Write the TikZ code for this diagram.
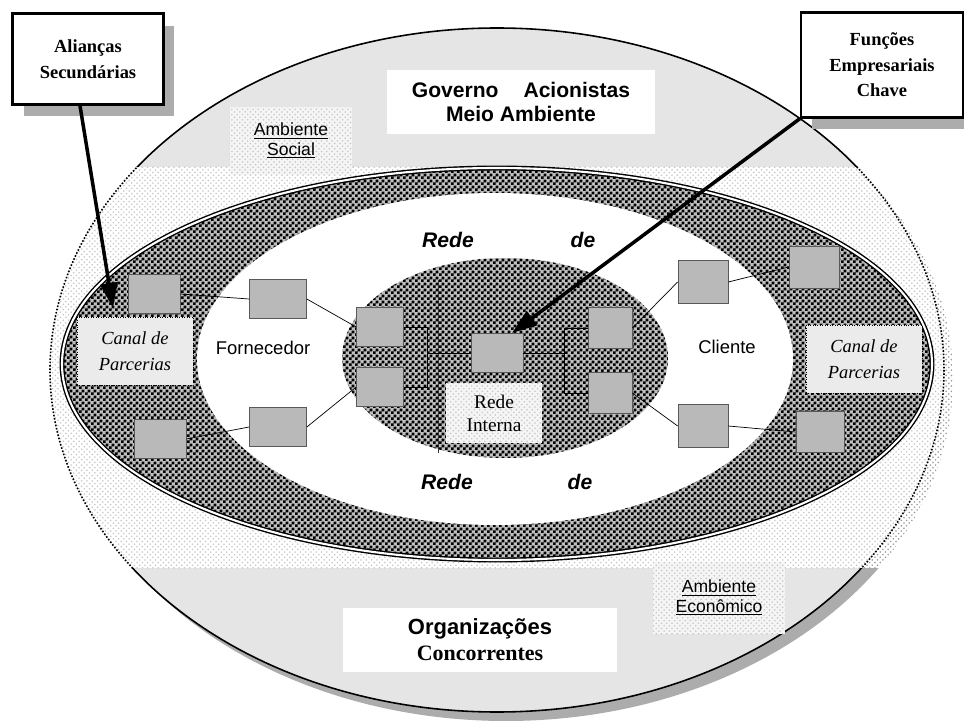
\documentclass[tikz,border=0pt]{standalone}
\usepackage{fontspec}
\setmainfont{Liberation Serif}
\setsansfont{Liberation Sans}
\usetikzlibrary{patterns,shadows,arrows.meta}

\pgfdeclarepatternformonly{xadrez}{\pgfpointorigin}{\pgfqpoint{3.2pt}{3.2pt}}{\pgfqpoint{3.2pt}{3.2pt}}
{
	\pgfpathrectangle{\pgfpointorigin}{\pgfqpoint{1.6pt}{1.6pt}}
	\pgfpathrectangle{\pgfqpoint{1.6pt}{1.6pt}}{\pgfqpoint{1.6pt}{1.6pt}}
	\pgfusepath{fill}
}

\begin{document}
\begin{tikzpicture}[x=0.02cm, y=-0.02cm,
	caixa/.style={draw=gray!70!black, fill=gray!55, inner sep=0pt, minimum width=1.04cm, minimum height=0.78cm},
	canal/.style={draw, densely dotted, fill=gray!16, inner sep=0pt, minimum width=2.32cm, minimum height=1.36cm, align=center, font=\itshape\fontsize{10.5}{15}\selectfont},
	ambiente/.style={preaction={fill=gray!8}, pattern=crosshatch dots, pattern color=gray!45, inner sep=0pt, align=center, font=\sffamily\fontsize{10}{11}\selectfont},
	rotulo/.style={fill=white, inner sep=0pt, align=center},
	callout/.style={draw, line width=1.4pt, fill=white, align=center, inner sep=0pt, font=\bfseries\fontsize{10.5}{14.5}\selectfont, drop shadow={shadow xshift=0.22cm, shadow yshift=-0.24cm, fill=gray!65, opacity=1}},
	pointer/.style={line width=2pt, -{Triangle[length=0.5cm, width=0.34cm]}},
	rede/.style={font=\sffamily\bfseries\itshape\fontsize{12}{14}\selectfont}]
	\useasboundingbox (0,0) rectangle (964,726);
	% ambiente externo e sombra
	\begin{scope}
		\clip (0,0) rectangle (964,167) (0,568) rectangle (964,726);
		\fill[gray!65] (506,379) ellipse [x radius=447, y radius=342];
	\end{scope}
	\begin{scope}
		\clip (506,379) ellipse [x radius=447, y radius=342];
		\fill[white] (0,167) rectangle (964,568);
		\fill[pattern=crosshatch dots, pattern color=gray!80] (0,167) rectangle (964,568);
	\end{scope}
	\fill[black!10] (497,370) ellipse [x radius=447, y radius=342];
	\begin{scope}
		\clip (497,370) ellipse [x radius=447, y radius=342];
		\fill[white] (0,167) rectangle (964,568);
		\fill[pattern=crosshatch dots, pattern color=gray!45] (0,167) rectangle (964,568);
	\end{scope}
	\begin{scope}
		\clip (0,0) rectangle (964,167) (0,568) rectangle (964,726);
		\draw[line width=0.9pt] (497,370) ellipse [x radius=447, y radius=342];
	\end{scope}
	\begin{scope}
		\clip (0,167) rectangle (964,568);
		\draw[densely dotted, line width=0.9pt] (497,370) ellipse [x radius=447, y radius=342];
	\end{scope}
	% canal de parcerias, rede e rede interna
	\fill[gray!50] (497,364) ellipse [x radius=435, y radius=196];
	\fill[pattern=xadrez, pattern color=black] (497,364) ellipse [x radius=435, y radius=196];
	\draw[double, line width=0.8pt, double distance=1.2pt] (497,364) ellipse [x radius=435, y radius=196];
	\fill[white] (495,359) ellipse [x radius=298, y radius=166];
	\fill[gray!50] (505,358) ellipse [x radius=163, y radius=100];
	\fill[pattern=xadrez, pattern color=black] (505,358) ellipse [x radius=163, y radius=100];
	\draw[gray!40!black, thin] (438,280) -- (438,453);

	% textos do ambiente
	\node[rotulo, minimum width=5.36cm, minimum height=1.28cm, font=\sffamily\bfseries\fontsize{12}{14}\selectfont] (gov) at (521,102) {Governo\hspace{0.5cm}Acionistas\\Meio Ambiente};
	\node[ambiente, minimum width=2.46cm, minimum height=1.36cm] (social) at (291,141) {\underline{Ambiente}\\\underline{Social}};
	\node[ambiente, minimum width=2.64cm, minimum height=1.46cm] (econ) at (719,598) {\underline{Ambiente}\\\underline{Econômico}};
	\node[rotulo, minimum width=5.5cm, minimum height=1.28cm, font=\bfseries\fontsize{12.5}{14.8}\selectfont] (org) at (480,640) {{\sffamily Organizações}\\Concorrentes};

	\node[canal] (canalL) at (135,351) {Canal de\\Parcerias};
	\node[canal] (canalR) at (864,359) {Canal de\\Parcerias};
	\node[ambiente, minimum width=1.92cm, minimum height=1.22cm, font=\fontsize{11}{13}\selectfont] (redeInt) at (494,413) {Rede\\Interna};
	\node[font=\sffamily\fontsize{10.5}{12}\selectfont] (fornTxt) at (263,348) {Fornecedor};
	\node[font=\sffamily\fontsize{10.5}{12}\selectfont] (cliTxt) at (727,347) {Cliente};
	\node[rede] (redeA) at (448,240) {Rede};
	\node[rede] (deA) at (583,240) {de};
	\node[rede] (redeB) at (447,482) {Rede};
	\node[rede] (deB) at (580,482) {de};

	% empresas
	\node[caixa] (fornExt1) at (154,294) {};
	\node[caixa] (fornExt2) at (160,439) {};
	\node[caixa, minimum width=1.14cm] (forn1) at (278,299) {};
	\node[caixa, minimum width=1.14cm] (forn2) at (278,427) {};
	\node[caixa, minimum width=0.94cm] (intL1) at (380,327) {};
	\node[caixa, minimum width=0.94cm] (intL2) at (380,387) {};
	\node[caixa] (intC) at (497,353) {};
	\node[caixa, minimum width=0.88cm, minimum height=0.82cm] (intR1) at (610,328) {};
	\node[caixa, minimum width=0.88cm, minimum height=0.82cm] (intR2) at (610,393) {};
	\node[caixa, minimum width=1.0cm, minimum height=0.86cm] (cli1) at (703,282) {};
	\node[caixa, minimum width=1.0cm, minimum height=0.86cm] (cli2) at (703,426) {};
	\node[caixa, minimum width=1.0cm, minimum height=0.84cm] (cliExt1) at (814,267) {};
	\node[caixa, minimum width=0.96cm, minimum height=0.82cm] (cliExt2) at (820,432) {};

	\draw[thin] (fornExt1.east) -- (forn1.west);
	\draw[thin] (fornExt2.east) -- (forn2.west);
	\draw[thin] (forn1.east) -- (intL1.west);
	\draw[thin] (forn2.east) -- (intL2.west);
	\draw[thin] (intL1.east) -- ++(24,0) coordinate (brL) |- (intL2.east);
	\draw[thin] (intC.west) -- (intC.west -| brL);
	\draw[thin] (intR1.west) -- ++(-23,0) coordinate (brR) |- (intR2.west);
	\draw[thin] (intC.east) -- (intC.east -| brR);
	\draw[thin] (intR1.east) -- (cli1.west);
	\draw[thin] (intR2.east) -- (cli2.west);
	\draw[thin] (cli1.east) -- (cliExt1.west);
	\draw[thin] (cli2.east) -- (cliExt2.west);

	% chamadas
	\node[callout, minimum width=3.02cm, minimum height=1.82cm] (ali) at (88,59) {Alianças\\Secundárias};
	\node[callout, minimum width=3.24cm, minimum height=2.1cm] (fun) at (882,65) {Funções\\Empresariais\\Chave};
	\coordinate (aliTip) at (113,308);
	\coordinate (funTip) at (512,333);
	\draw[pointer] ([xshift=-0.16cm]ali.south) -- (aliTip);
	\draw[pointer] (fun.south west) -- (funTip);
\end{tikzpicture}
\end{document}
